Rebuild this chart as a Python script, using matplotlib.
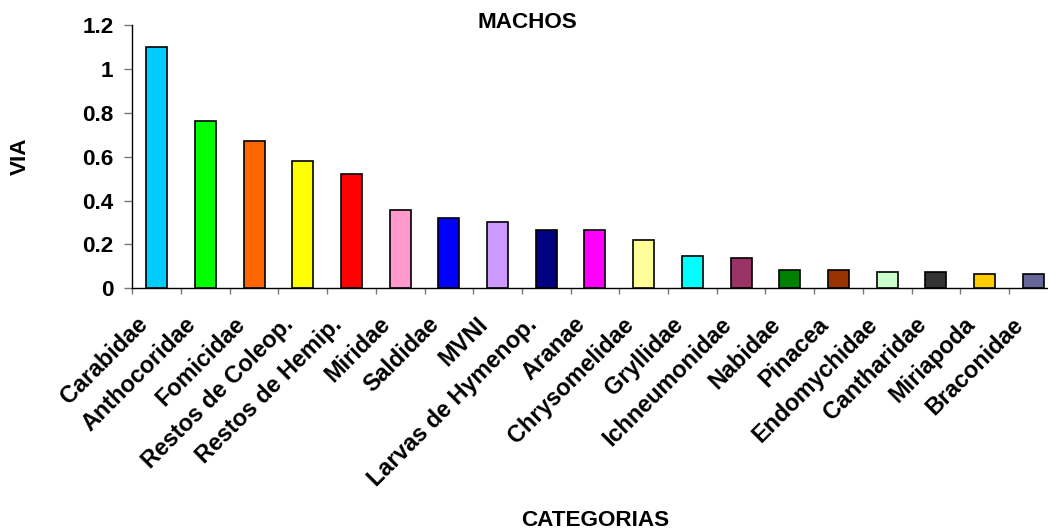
import matplotlib
matplotlib.use("Agg")
import matplotlib.pyplot as plt
import matplotlib.transforms as mtransforms
from matplotlib.ticker import FixedLocator, FuncFormatter
import numpy as np

categories = ["Carabidae", "Anthocoridae", "Fomicidae", "Restos de Coleop.",
              "Restos de Hemip.", "Miridae", "Saldidae", "MVNI",
              "Larvas de Hymenop.", "Aranae", "Chrysomelidae", "Gryllidae",
              "Ichneumonidae", "Nabidae", "Pinacea", "Endomychidae",
              "Cantharidae", "Miriapoda", "Braconidae"]
values = [1.10, 0.764, 0.673, 0.582, 0.52, 0.355, 0.319, 0.30, 0.265, 0.264,
          0.219, 0.146, 0.137, 0.082, 0.082, 0.073, 0.073, 0.064, 0.064]
colors = ["#00CCFF", "#00FF00", "#FF6600", "#FFFF00", "#FF0000", "#FF99CC",
          "#0000FF", "#CC99FF", "#000080", "#FF00FF", "#FFFF99", "#00FFFF",
          "#993366", "#008000", "#993300", "#CCFFCC", "#333333", "#FFCC00",
          "#666699"]
yticks = [0, 0.2, 0.4, 0.6, 0.8, 1.0, 1.2]

plt.rcParams['font.family'] = ['Liberation Sans', 'DejaVu Sans']
FS = 16.2
FS_CAT = 16.8

W, H = 1048, 532
fig = plt.figure(figsize=(W / 100, H / 100), dpi=100)
x0, x1 = 132.3, 132.3 + 19 * 48.7
y0, y1 = 288.3, 25.0
ax = fig.add_axes([x0 / W, 1 - y0 / H, (x1 - x0) / W, (y0 - y1) / H])

x = np.arange(len(categories))
ax.bar(x, values, width=0.43, color=colors, edgecolor="black", linewidth=1.2, zorder=3)

ax.set_xlim(-0.5, len(categories) - 0.5)
ax.set_ylim(0, 1.2)

for s in ["top", "right"]:
    ax.spines[s].set_visible(False)
for s in ["left", "bottom"]:
    ax.spines[s].set_color("black")
    ax.spines[s].set_linewidth(1.0)

ax.set_yticks(yticks)
ax.yaxis.set_major_formatter(FuncFormatter(lambda v, p: f"{v:g}"))
ax.tick_params(axis="y", direction="out", length=5.5, width=1.0, color="#777777",
               pad=8, labelsize=FS)
for lab in ax.get_yticklabels():
    lab.set_fontweight("bold")

# category labels at centres, boundary ticks as minor
ax.set_xticks(x)
ax.set_xticklabels(categories, rotation=45, ha="right", va="center",
                   rotation_mode="anchor", fontsize=FS_CAT, fontweight="bold")
ax.tick_params(axis="x", which="major", length=0, pad=23.5)
ax.xaxis.set_minor_locator(FixedLocator(np.arange(-0.5, len(categories), 1.0)))
ax.tick_params(axis="x", which="minor", direction="out", length=4.5, width=1.0,
               color="#777777")
offset = mtransforms.ScaledTranslation(-13 / 100, 0, fig.dpi_scale_trans)
for lab in ax.get_xticklabels():
    lab.set_transform(lab.get_transform() + offset)

ax.set_ylabel("VIA", fontsize=FS, fontweight="bold", va="center")
ax.yaxis.set_label_coords((20 - x0) / (x1 - x0), 0.5)
ax.set_xlabel("CATEGORIAS", fontsize=FS, fontweight="bold", va="center")
ax.xaxis.set_label_coords(0.5, -(521 - y0) / (y0 - y1))
ax.set_title("MACHOS", fontsize=FS, fontweight="bold", va="center", pad=0,
             x=(527 - x0) / (x1 - x0), y=(y0 - 22.7) / (y0 - y1))

fig.savefig("out.png", dpi=100)
